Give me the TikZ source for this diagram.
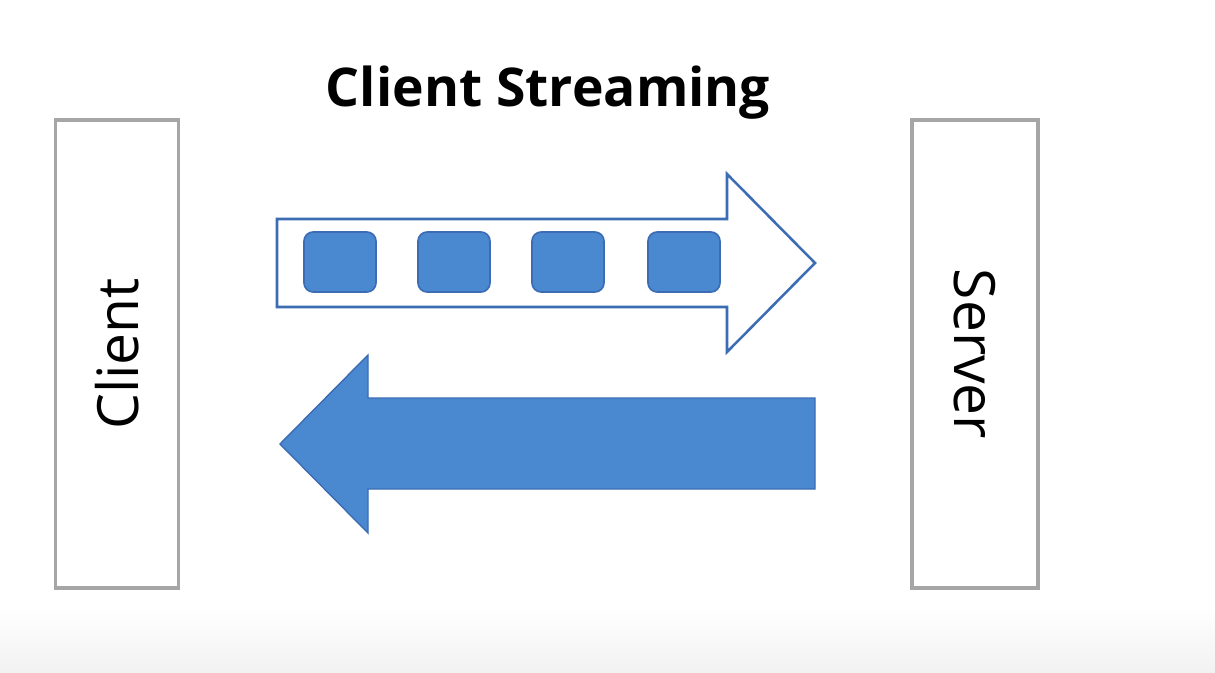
\documentclass[tikz,border=0pt]{standalone}
\usepackage{fontspec}
\setmainfont{Open Sans}
\definecolor{boxgray}{HTML}{A6A6A6}
\definecolor{bluefill}{HTML}{4A89D0}
\definecolor{blueline}{HTML}{3B6CB4}
\definecolor{bottomgray}{HTML}{F2F2F2}
\begin{document}
\begin{tikzpicture}[x=0.025cm,y=-0.025cm,
  sidebox/.style={draw=boxgray,line width=2.2pt,fill=white},
  packet/.style={draw=blueline,line width=1.2pt,fill=bluefill,rounded corners=6.5pt,minimum width=72*0.025cm,minimum height=60*0.025cm,inner sep=0pt},
  outarrow/.style={draw=blueline,line width=1.8pt,fill=white,line join=miter},
  inarrow/.style={draw=blueline,line width=1pt,fill=bluefill,line join=miter},
  vlabel/.style={font=\fontsize{40.5}{44}\selectfont,inner sep=0pt}]
\useasboundingbox (0,0) rectangle (1215,672);
\fill[white] (0,0) rectangle (1215,605);
\shade[top color=white,bottom color=bottomgray] (0,605) rectangle (1215,672);
% side boxes
\node[sidebox,minimum width=123*0.025cm,minimum height=468*0.025cm,inner sep=0pt] (clientbox) at (117,354) {};
\node[sidebox,minimum width=126*0.025cm,minimum height=468*0.025cm,inner sep=0pt] (serverbox) at (975,354) {};
\node[vlabel,rotate=90] (clientlabel) at (clientbox.center) {Client};
\node[vlabel,rotate=-90] (serverlabel) at (serverbox.center) {Server};
% title
\node[font=\fontsize{38}{42}\selectfont\bfseries,inner sep=0pt] (title) at (548,93) {Client Streaming};
% request arrow (outline)
\draw[outarrow] (277,219) -- (727,219) -- (727,174) -- (815,263) -- (727,352) -- (727,307) -- (277,307) -- cycle;
\node[packet] (p1) at (340,262) {};
\node[packet] (p2) at (454,262) {};
\node[packet] (p3) at (568,262) {};
\node[packet] (p4) at (684,262) {};
% response arrow (filled)
\draw[inarrow] (815,398) -- (368,398) -- (368,355) -- (280,444) -- (368,533) -- (368,489) -- (815,489) -- cycle;
\end{tikzpicture}
\end{document}
